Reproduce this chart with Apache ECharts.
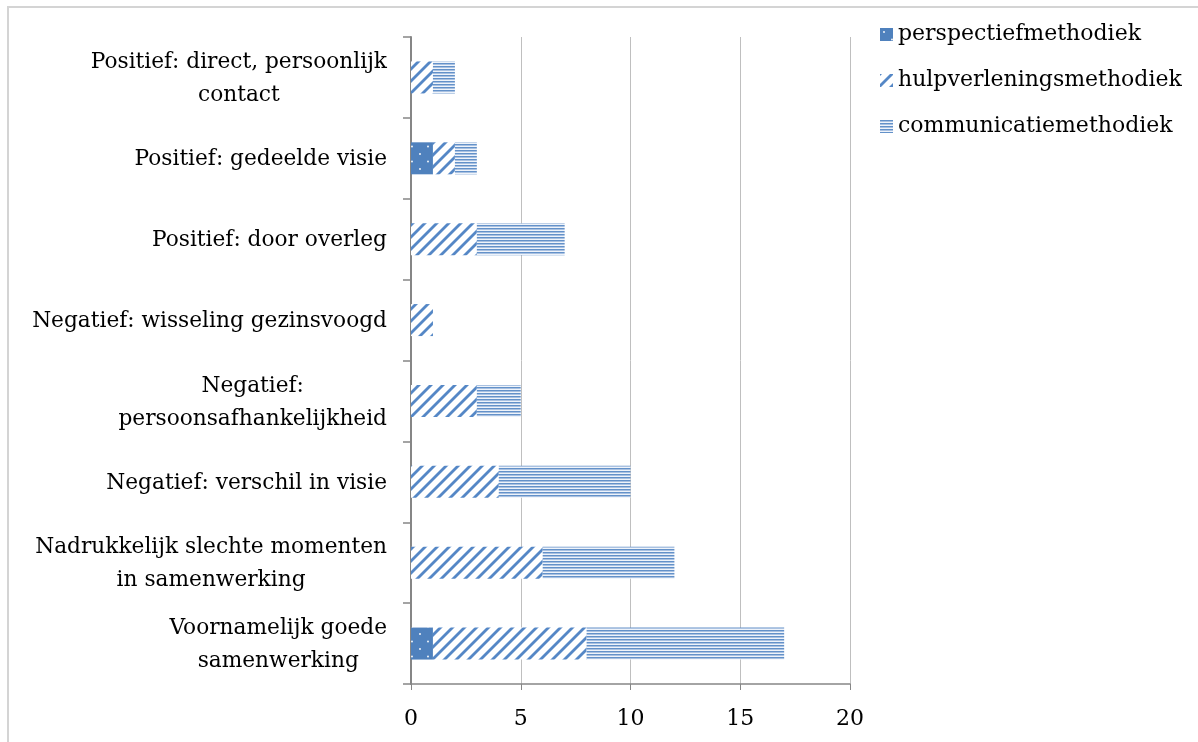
<!DOCTYPE html>
<html>
<head>
<meta charset="utf-8">
<script src="https://cdn.jsdelivr.net/npm/echarts@6/dist/echarts.min.js"></script>
<style>
html,body{margin:0;padding:0;background:#fff;}
#chart{width:1198px;height:742px;}
</style>
</head>
<body>
<div id="chart"></div>
<script>
// Data (bottom to top, as on the category axis)
const categories = [
  'Voornamelijk goede\nsamenwerking',
  'Nadrukkelijk slechte momenten\nin samenwerking',
  'Negatief: verschil in visie',
  'Negatief:\npersoonsafhankelijkheid',
  'Negatief: wisseling gezinsvoogd',
  'Positief: door overleg',
  'Positief: gedeelde visie',
  'Positief: direct, persoonlijk\ncontact'
];
const seriesNames = ['perspectiefmethodiek', 'hulpverleningsmethodiek', 'communicatiemethodiek'];
const perspectief = [1, 0, 0, 0, 0, 0, 1, 0];
const hulpverlening = [7, 6, 4, 3, 1, 3, 1, 1];
const communicatie = [9, 6, 6, 2, 0, 4, 1, 1];
const xTicks = [0, 5, 10, 15, 20];

const BLUE = '#4F81BD';
const FONT = 'DejaVu Serif';

function makeCanvas(w, h, draw) {
  const c = document.createElement('canvas');
  c.width = w; c.height = h;
  draw(c.getContext('2d'), w, h);
  return c;
}
const dotPattern = makeCanvas(16, 15, (ctx, w, h) => {
  ctx.fillStyle = BLUE; ctx.fillRect(0, 0, w, h);
  ctx.fillStyle = '#ffffff';
  ctx.beginPath(); ctx.arc(4, 4, 0.9, 0, Math.PI * 2); ctx.fill();
  ctx.beginPath(); ctx.arc(12, 11.5, 0.9, 0, Math.PI * 2); ctx.fill();
});
const diagPattern = makeCanvas(12, 12, (ctx, w, h) => {
  ctx.fillStyle = '#ffffff'; ctx.fillRect(0, 0, w, h);
  ctx.strokeStyle = '#5587c6'; ctx.lineWidth = 2.8;
  for (let k = -1; k <= 1; k++) {
    ctx.beginPath();
    ctx.moveTo(k * w - 2, h + 2);
    ctx.lineTo(k * w + w + 2, -2);
    ctx.stroke();
  }
});
const horizPattern = makeCanvas(8, 3, (ctx, w, h) => {
  ctx.fillStyle = '#ffffff'; ctx.fillRect(0, 0, w, h);
  ctx.fillStyle = '#6391c9'; ctx.fillRect(0, 0, w, 1);
  ctx.fillStyle = '#a9c1e1'; ctx.fillRect(0, 1, w, 1);
  ctx.fillStyle = '#eef3fa'; ctx.fillRect(0, 2, w, 1);
});

const patterns = [dotPattern, diagPattern, horizPattern];
const values = [perspectief, hulpverlening, communicatie];

const chart = echarts.init(document.getElementById('chart'), null, {renderer: 'canvas'});
chart.setOption({
  animation: false,
  backgroundColor: '#ffffff',
  graphic: [{
    type: 'rect',
    shape: {x: 8, y: 7, width: 1400, height: 900},
    style: {fill: 'none', stroke: '#d4d4d4', lineWidth: 2},
    silent: true, z: -1
  }],
  grid: {left: 411, right: 348, top: 37, bottom: 58, containLabel: false},
  legend: {
    orient: 'vertical',
    left: 875, top: 17,
    itemWidth: 13, itemHeight: 13, itemGap: 21,
    icon: 'rect',
    textStyle: {fontFamily: FONT, fontSize: 22, color: '#000', lineHeight: 25},
    data: seriesNames
  },
  xAxis: {
    type: 'value',
    min: 0, max: 20, interval: 5,
    axisLine: {show: true, lineStyle: {color: '#868686', width: 1.5}},
    axisTick: {show: true, length: 6, lineStyle: {color: '#868686'}},
    splitLine: {show: true, lineStyle: {color: '#bfbfbf', width: 1}},
    axisLabel: {fontFamily: FONT, fontSize: 22, color: '#000', margin: 24,
      formatter: v => xTicks.includes(v) ? String(v) : ''}
  },
  yAxis: {
    type: 'category',
    data: categories,
    axisLine: {show: true, lineStyle: {color: '#868686', width: 2}},
    axisTick: {show: true, length: 8, alignWithLabel: false, lineStyle: {color: '#868686', width: 1.5}},
    axisLabel: {
      fontFamily: FONT, fontSize: 21.7, color: '#000', margin: 24, lineHeight: 33,
      align: 'right',
      formatter: v => v.split('\n').map(s => '{c|' + s + '}').join('\n'),
      rich: {c: {align: 'center', fontFamily: FONT, fontSize: 21.7, color: '#000', lineHeight: 33, padding: [3, 0, 0, 0]}}
    }
  },
  series: seriesNames.map((name, i) => ({
    name: name,
    type: 'bar',
    stack: 'total',
    barWidth: 32,
    data: values[i],
    itemStyle: {color: {image: patterns[i], repeat: 'repeat'}},
    emphasis: {disabled: true}
  }))
});
</script>
</body>
</html>
